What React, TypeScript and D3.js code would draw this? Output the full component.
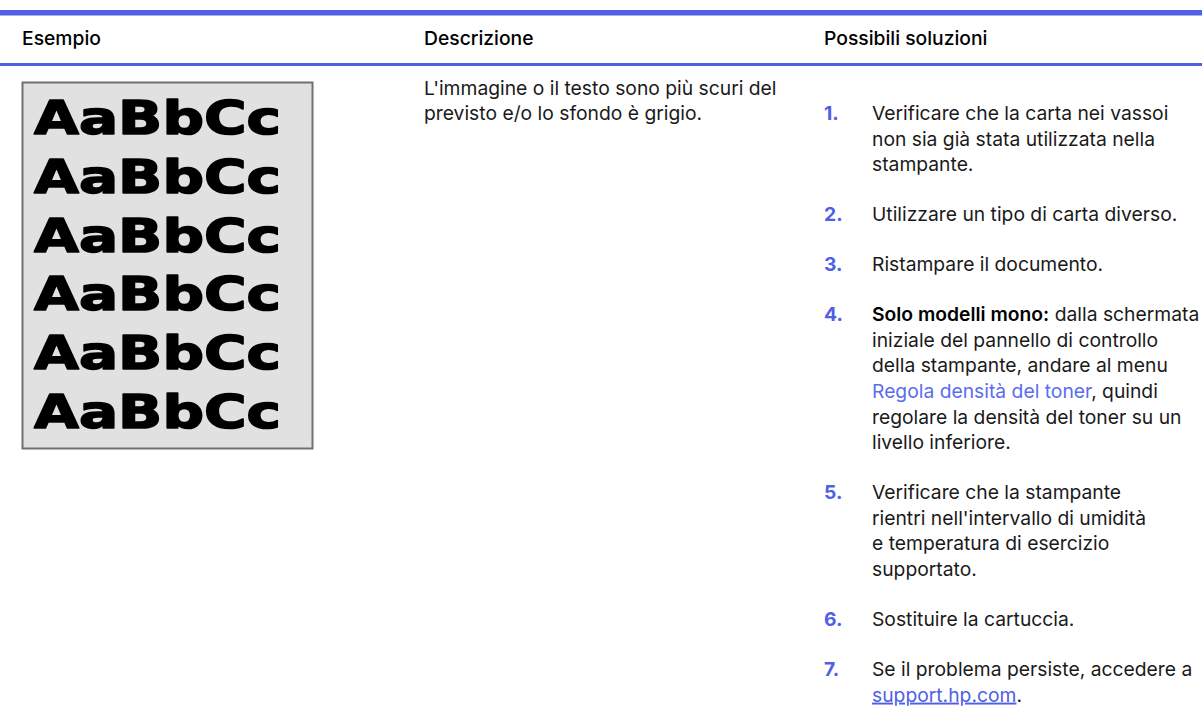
import React from "react";
import * as d3 from "d3";

const width = 1202;
const height = 712;

const BLUE = "#4f60e6";
const TEXT = "#1a1a1a";
const FONT = "Inter, 'Noto Sans', sans-serif";

// column headers and their left edges
const headers = ["Esempio", "Descrizione", "Possibili soluzioni"];
const headerX = [22, 424, 824];

// sample image: rows of text on grey paper
const sampleRows = ["AaBbCc", "AaBbCc", "AaBbCc", "AaBbCc", "AaBbCc", "AaBbCc"];

const description = [
  "L'immagine o il testo sono più scuri del",
  "previsto e/o lo sfondo è grigio.",
];

// each solution: lines of segments [text, style]
type Seg = [string, "n" | "b" | "l" | "u"];
const solutions: Seg[][][] = [
  [
    [["Verificare che la carta nei vassoi", "n"]],
    [["non sia già stata utilizzata nella", "n"]],
    [["stampante.", "n"]],
  ],
  [[["Utilizzare un tipo di carta diverso.", "n"]]],
  [[["Ristampare il documento.", "n"]]],
  [
    [["Solo modelli mono:", "b"], [" dalla schermata", "n"]],
    [["iniziale del pannello di controllo", "n"]],
    [["della stampante, andare al menu", "n"]],
    [["Regola densità del toner", "l"], [", quindi", "n"]],
    [["regolare la densità del toner su un", "n"]],
    [["livello inferiore.", "n"]],
  ],
  [
    [["Verificare che la stampante", "n"]],
    [["rientri nell'intervallo di umidità", "n"]],
    [["e temperatura di esercizio", "n"]],
    [["supportato.", "n"]],
  ],
  [[["Sostituire la cartuccia.", "n"]]],
  [
    [["Se il problema persiste, accedere a", "n"]],
    [["support.hp.com", "u"], [".", "n"]],
  ],
];

const LINE = 25.6;
const GAP = 50;
const FS = 19.3;

export default function App() {
  // sample box
  const box = { x: 22.5, y: 82.5, w: 290, h: 366 };
  const rowY = d3
    .scalePoint<number>()
    .domain(d3.range(sampleRows.length))
    .range([134, 428]);

  // solution line positions
  let y = 120;
  const items = solutions.map((lines, i) => {
    const start = y;
    const ys = lines.map((_, j) => start + j * LINE);
    y = ys[ys.length - 1] + GAP;
    return { n: i + 1, lines, ys };
  });

  const segStyle = (s: Seg[1]) => {
    if (s === "b") return { fontWeight: 600, fill: "#000" };
    if (s === "l") return { fill: "#5a6cf0" };
    if (s === "u") return { fill: "#4f60e6", textDecoration: "underline" };
    return { fill: TEXT };
  };

  return (
    <svg
      width={width}
      height={height}
      style={{ position: "absolute", left: 0, top: 0, background: "#fff" }}
      fontFamily={FONT}
    >
      <rect x={0} y={10} width={width} height={5.5} fill={BLUE} />
      <rect x={0} y={63} width={width} height={3} fill={BLUE} />

      {headers.map((h, i) => (
        <text key={h} x={headerX[i]} y={45} fontSize={FS} fontWeight={500} fill="#000">
          {h}
        </text>
      ))}

      <rect
        x={box.x}
        y={box.y}
        width={box.w}
        height={box.h}
        fill="#e1e1e1"
        stroke="#707070"
        strokeWidth={2}
      />
      {sampleRows.map((t, i) => (
        <text
          key={i}
          x={34}
          y={rowY(i)}
          fontFamily="'DejaVu Sans', sans-serif"
          fontWeight={700}
          fontSize={47}
          textLength={247}
          lengthAdjust="spacingAndGlyphs"
          fill="#000"
          stroke="#000"
          strokeWidth={1.6}
          strokeLinejoin="round"
        >
          {t}
        </text>
      ))}

      {description.map((t, i) => (
        <text key={i} x={424} y={94.5 + i * LINE} fontSize={FS} fill={TEXT}>
          {t}
        </text>
      ))}

      {items.map((it) => (
        <g key={it.n}>
          <text x={824} y={it.ys[0]} fontSize={FS} fontWeight={700} fill={BLUE}>
            {it.n}.
          </text>
          {it.lines.map((segs, j) => (
            <text key={j} x={872} y={it.ys[j]} fontSize={FS}>
              {segs.map(([t, s], k) => (
                <tspan key={k} style={segStyle(s)}>
                  {t}
                </tspan>
              ))}
            </text>
          ))}
        </g>
      ))}
    </svg>
  );
}
